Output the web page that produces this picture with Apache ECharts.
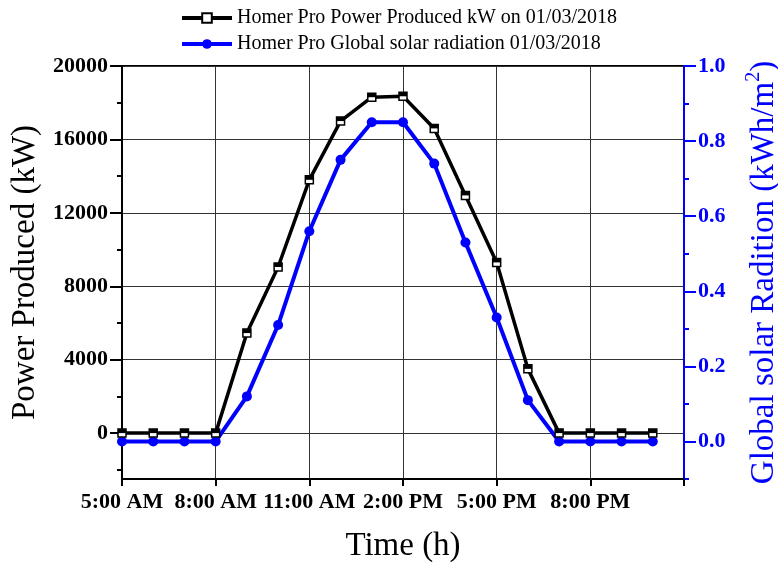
<!DOCTYPE html>
<html><head><meta charset="utf-8">
<script src="https://cdn.jsdelivr.net/npm/echarts@6/dist/echarts.min.js"></script>
<style>html,body{margin:0;padding:0;background:#fff}#c{width:778px;height:566px}</style>
</head><body><div id="c"></div>
<script>
const hours = [5,6,7,8,9,10,11,12,13,14,15,16,17,18,19,20,21,22];
const power = [0,0,0,0,5450,9050,13800,17000,18300,18350,16600,12950,9300,3500,0,0,0,0];
const radiation = [0,0,0,0,0.12,0.31,0.56,0.75,0.85,0.85,0.74,0.53,0.33,0.11,0,0,0,0];
const powerTicks = [0,4000,8000,12000,16000,20000];
const powerMinorTicks = [-2000,2000,6000,10000,14000,18000];
const radTicks = [0,0.2,0.4,0.6,0.8,1.0];
const radMinorTicks = [-0.1,0.1,0.3,0.5,0.7,0.9];
const seriesNames = ['Homer Pro Power Produced kW on 01/03/2018','Homer Pro Global solar radiation 01/03/2018'];

const SERIF = 'Liberation Serif';
const BLUE = '#0000ff';
function timeLabel(h){
  if (h >= 23) return '';
  const hh = h % 12 === 0 ? 12 : h % 12;
  return hh + ':00 ' + (h < 12 ? 'AM' : 'PM');
}
const chart = echarts.init(document.getElementById('c'), null, {renderer:'canvas'});
const tickLabelStyle = {fontFamily: SERIF, fontSize: 22, fontWeight: 'bold', color: '#000'};
chart.setOption({
  animation: false,
  backgroundColor: '#fff',
  grid: {left: 122, right: 94, top: 66, bottom: 87, show: true, borderColor: '#000', borderWidth: 2,
         backgroundColor: 'transparent', containLabel: false, outerBoundsMode: 'none'},
  legend: {
    orient: 'vertical', left: 180, top: 8, padding: 0, itemWidth: 50, itemHeight: 12, itemGap: 6,
    data: seriesNames,
    lineStyle: {width: 4},
    textStyle: {fontFamily: SERIF, fontSize: 20, color: '#000'}
  },
  xAxis: {
    type: 'value', min: 5, max: 23, interval: 3,
    axisLine: {show: true, onZero: false, lineStyle: {color: '#000', width: 2}},
    axisTick: {show: true, length: 7, lineStyle: {color: '#000', width: 2}},
    axisLabel: Object.assign({margin: 12, formatter: timeLabel}, tickLabelStyle),
    splitLine: {show: true, lineStyle: {color: '#333', width: 1}},
    name: 'Time (h)', nameLocation: 'middle', nameGap: 51,
    nameTextStyle: {fontFamily: SERIF, fontSize: 33, color: '#000'}
  },
  yAxis: [
    {
      type: 'value', position: 'left', min: -2500, max: 20000,
      axisLine: {show: true, onZero: false, lineStyle: {color: '#000', width: 2}},
      axisTick: {show: true, length: 12, customValues: powerTicks, lineStyle: {color: '#000', width: 2}},
      axisLabel: Object.assign({margin: 14, customValues: powerTicks, formatter: v => String(v)}, tickLabelStyle),
      splitLine: {show: true, lineStyle: {color: '#333', width: 1}},
      name: 'Power Produced (kW)', nameLocation: 'middle', nameGap: 73,
      nameTextStyle: {fontFamily: SERIF, fontSize: 33, color: '#000'}
    },
    {
      type: 'value', position: 'right', min: -0.1, max: 1.0,
      axisLine: {show: true, onZero: false, lineStyle: {color: BLUE, width: 2}},
      axisTick: {show: true, length: 12, customValues: radTicks, lineStyle: {color: BLUE, width: 2}},
      axisLabel: {margin: 14, customValues: radTicks, formatter: v => v.toFixed(1), fontFamily: SERIF, fontSize: 22, fontWeight: 'bold', color: BLUE},
      splitLine: {show: false},
      name: 'Global solar Radition (kWh/m{sup|2})', nameLocation: 'middle', nameGap: 60,
      nameTextStyle: {fontFamily: SERIF, fontSize: 33, color: BLUE, lineHeight: 40,
        rich: {sup: {fontFamily: SERIF, fontSize: 20, color: BLUE, verticalAlign: 'top', lineHeight: 40}}}
    },
    {
      type: 'value', position: 'left', min: -2500, max: 20000,
      axisLine: {show: false, onZero: false},
      axisTick: {show: true, length: 5, customValues: powerMinorTicks, lineStyle: {color: '#000', width: 2}},
      axisLabel: {show: false},
      splitLine: {show: false}
    },
    {
      type: 'value', position: 'right', min: -0.1, max: 1.0,
      axisLine: {show: false, onZero: false},
      axisTick: {show: true, length: 5, customValues: radMinorTicks, lineStyle: {color: BLUE, width: 2}},
      axisLabel: {show: false},
      splitLine: {show: false}
    }
  ],
  series: [
    {
      name: seriesNames[0], type: 'line', yAxisIndex: 0,
      data: hours.map((h, i) => [h, power[i]]),
      symbol: 'rect', symbolSize: 8,
      lineStyle: {color: '#000', width: 3.5},
      itemStyle: {color: '#fff', borderColor: '#000', borderWidth: 1.5},
      z: 3
    },
    {
      name: 'powerMarkerTop', type: 'line', yAxisIndex: 0,
      data: hours.map((h, i) => [h, power[i]]),
      symbol: 'path://M0,0L10,0L10,5L0,5Z', symbolSize: [8, 4], symbolOffset: [0, -2],
      lineStyle: {width: 0, opacity: 0},
      itemStyle: {color: '#000'},
      silent: true, z: 4
    },
    {
      name: seriesNames[1], type: 'line', yAxisIndex: 1,
      data: hours.map((h, i) => [h, radiation[i]]),
      symbol: 'circle', symbolSize: 10,
      lineStyle: {color: BLUE, width: 4},
      itemStyle: {color: BLUE},
      z: 2
    }
  ]
});
</script>
</body></html>
